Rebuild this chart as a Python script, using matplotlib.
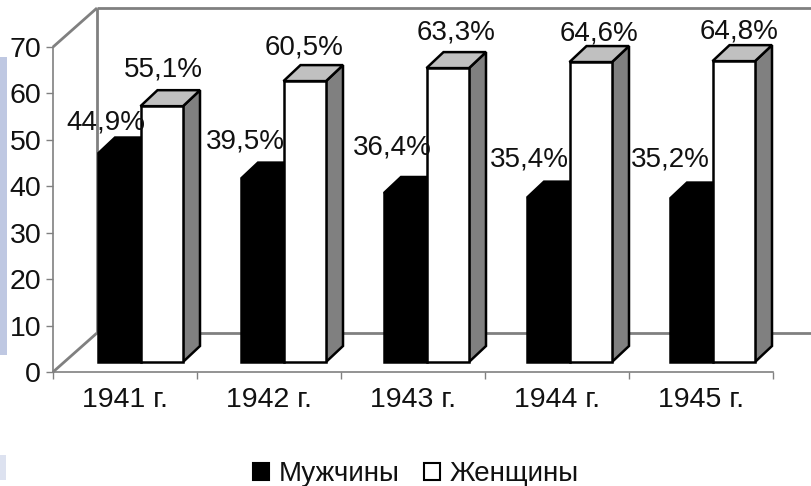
import matplotlib
matplotlib.use("Agg")
import matplotlib.pyplot as plt
from matplotlib.patches import Polygon, Rectangle, Patch

plt.rcParams['font.family'] = ['Liberation Sans', 'DejaVu Sans']

years = ['1941 г.', '1942 г.', '1943 г.', '1944 г.', '1945 г.']
men = [44.9, 39.5, 36.4, 35.4, 35.2]
women = [55.1, 60.5, 63.3, 64.6, 64.8]
men_labels = ['44,9%', '39,5%', '36,4%', '35,4%', '35,2%']
women_labels = ['55,1%', '60,5%', '63,3%', '64,6%', '64,8%']
yticks = [0, 10, 20, 30, 40, 50, 60, 70]

W, H = 811, 486
L, R, T, B = 53, 773, 47, 372
fig = plt.figure(figsize=(W / 100, H / 100), dpi=100, facecolor='white')
ax = fig.add_axes([L / W, (H - B) / H, (R - L) / W, (B - T) / H])
ax.set_xlim(0, 5)
ax.set_ylim(0, 70)
ax.patch.set_alpha(0)
px = 5 / (R - L)
py = 70 / (B - T)

# decorative strip at the left edge of the picture
STRIP = '#BFC8E2'
fig.add_artist(Rectangle((0, (H - 355) / H), 7 / W, 298 / H, transform=fig.transFigure, color=STRIP, lw=0))
fig.add_artist(Rectangle((0, (H - 480) / H), 6 / W, 25 / H, transform=fig.transFigure, color='#DDE2F0', lw=0))

# axes walls
GRAY = '#808080'
wx, wy = 44 * px, 39 * py
wall_kw = dict(color=GRAY, lw=2.0, clip_on=False, zorder=1, solid_capstyle='butt')
ax.plot([0, wx], [0, wy], **wall_kw)
ax.plot([0, wx], [70, 70 + wy], **wall_kw)
ax.plot([wx, wx], [wy, 70 + wy], **wall_kw)
ax.plot([wx, 5 + wx], [70 + wy, 70 + wy], **wall_kw)
ax.plot([wx, 5 + wx], [wy, wy], **wall_kw)

for side in ('top', 'right'):
    ax.spines[side].set_visible(False)
for side in ('left', 'bottom'):
    ax.spines[side].set_color(GRAY)
    ax.spines[side].set_linewidth(1.2)

ax.set_xticks(range(6))
ax.set_xticklabels([])
ax.set_yticks(yticks)
ax.tick_params(axis='both', length=5, width=1.0, color=GRAY, labelsize=20.5, labelcolor='#111111')
ax.tick_params(axis='y', pad=3.5)
for i, y in enumerate(years):
    ax.annotate(y, (i + 0.5, 0), xytext=(0, -28), xycoords='data', textcoords='offset pixels',
                ha='center', va='center', fontsize=20.5, color='#111111')

# bars
start, step, bw = 98, 143, 42.5
base = 10 * py
dx, dy = 17 * px, 16 * py
edge = dict(edgecolor='black', linewidth=1.8, joinstyle='miter', clip_on=False)
men_off = [(-13, 31), (-17, 37), (-13, 46), (-19, 38), (-21, 39)]
women_off = [(2, 37), (-1, 34), (8, 36), (8, 29), (5, 30)]

for i in range(len(years)):
    x0 = (start + step * i - L) * px
    w = bw * px
    for j, (vals, fc) in enumerate(((men, 'black'), (women, 'white'))):
        v = vals[i]
        xl = x0 + j * w
        xr = xl + w
        top = base + v
        ax.add_patch(Polygon([(xr, base), (xr + dx, base + dy), (xr + dx, top + dy), (xr, top)],
                             facecolor=GRAY if j else 'black', zorder=2 + j, **edge))
        ax.add_patch(Polygon([(xl, top), (xl + dx, top + dy), (xr + dx, top + dy), (xr, top)],
                             facecolor='#C0C0C0' if j else 'black', zorder=2 + j, **edge))
        ax.bar(xl, v, w, bottom=base, align='edge', facecolor=fc, zorder=2 + j, **edge)
    ax.annotate(men_labels[i], (x0 + w / 2, base + men[i]), xytext=men_off[i], textcoords='offset pixels',
                ha='center', va='center', fontsize=20, color='#111111', zorder=6)
    ax.annotate(women_labels[i], (x0 + 1.5 * w, base + women[i]), xytext=women_off[i], textcoords='offset pixels',
                ha='center', va='center', fontsize=20, color='#111111', zorder=6)

handles = [Patch(facecolor='black', edgecolor='black', lw=1.5, label='Мужчины'),
           Patch(facecolor='white', edgecolor='black', lw=1.5, label='Женщины')]
fig.legend(handles=handles, loc='center', bbox_to_anchor=(416 / W, (H - 474) / H), ncol=2, frameon=False,
           fontsize=20, handlelength=0.58, handleheight=0.58, handletextpad=0.35, columnspacing=0.85,
           borderpad=0, labelcolor='#111111')

fig.savefig('out.png', dpi=100, facecolor='white')
